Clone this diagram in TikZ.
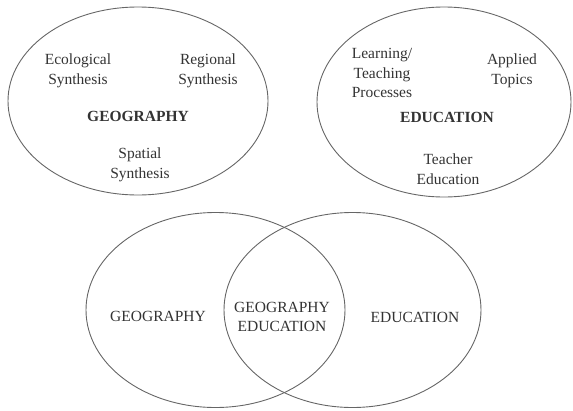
\documentclass[tikz,border=0pt]{standalone}
\usepackage{fontspec}
\setmainfont{Liberation Serif}
\usetikzlibrary{shapes.geometric}
\tikzset{
  field/.style={draw=black!60, line width=0.9pt, ellipse, inner sep=0pt},
  topic/.style={align=center, text=black!80, inner sep=0pt,
    font=\fontsize{15.5}{19.5}\selectfont},
  head/.style={topic, font=\fontsize{15.5}{19.5}\selectfont\bfseries},
}
\begin{document}
\begin{tikzpicture}[x=1pt, y=-1pt]
\useasboundingbox (0,0) rectangle (573,410);

% the two separate fields
\node[field, minimum width=260, minimum height=188] (geo) at (138,101) {};
\node[field, minimum width=254, minimum height=190] (edu) at (444,102) {};

\node[topic] (eco) at (78,71) {Ecological\\Synthesis};
\node[topic] (reg) at (208,71) {Regional\\Synthesis};
\node[head] (geohead) at (138,116) {GEOGRAPHY};
\node[topic] (spa) at (140,165) {Spatial\\Synthesis};

\node[topic] (learn) at (382,73) {Learning/\\Teaching\\Processes};
\node[topic] (appl) at (512,71) {Applied\\Topics};
\node[head] (eduhead) at (447,117) {EDUCATION};
\node[topic] (teach) at (448,169) {Teacher\\Education};

% the overlap
\node[field, minimum width=259, minimum height=195] (geoset) at (215.5,310) {};
\node[field, minimum width=257, minimum height=195] (eduset) at (352.5,310) {};

\node[topic] (geolabel) at (158,316) {GEOGRAPHY};
\node[topic] (both) at (282,317) {GEOGRAPHY\\EDUCATION};
\node[topic] (edulabel) at (415,317) {EDUCATION};
\end{tikzpicture}
\end{document}
